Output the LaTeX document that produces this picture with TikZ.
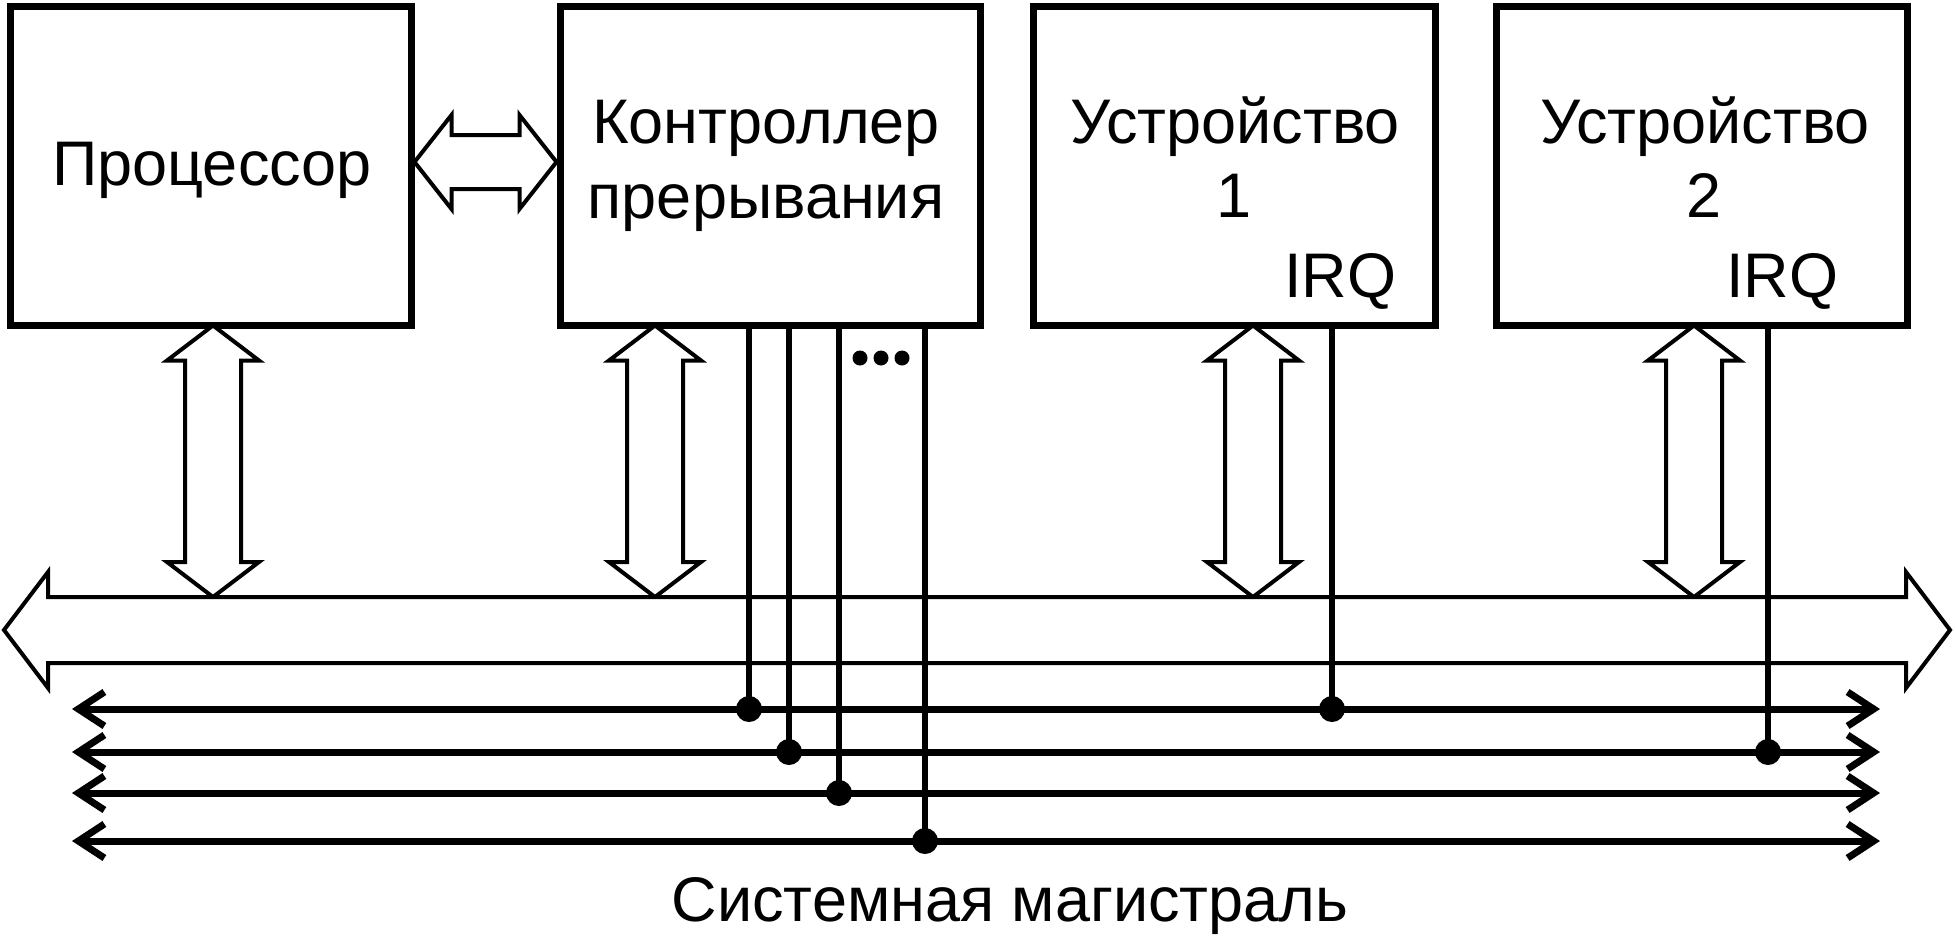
\documentclass[tikz,border=0pt]{standalone}
\usepackage{fontspec}
\setmainfont{Liberation Sans}
\usetikzlibrary{arrows.meta,calc}
\tikzset{
  boxst/.style={draw=black, line width=7bp, minimum width=#1, minimum height=318bp, inner sep=0pt, fill=white},
  lbl/.style={anchor=base, inner sep=0pt, font=\fontsize{63bp}{74bp}\selectfont},
  fatarrow/.style={draw=black, fill=white, line width=4bp, line join=miter},
  busline/.style={line width=7bp, {Straight Barb[length=26bp,width=34bp,line width=7bp]}-{Straight Barb[length=26bp,width=34bp,line width=7bp]}},
  irqline/.style={line width=6bp},
  junction/.style={fill=black},
}
\newcommand\vfat[2]{%
  \path[fatarrow] let \p1=(#1), \p2=(#2) in
   (\x1,\y1) -- (\x1+46bp,\y1-35bp) -- (\x1+28bp,\y1-35bp) -- (\x1+28bp,\y2+35bp)
   -- (\x1+46bp,\y2+35bp) -- (\x1,\y2) -- (\x1-46bp,\y2+35bp) -- (\x1-28bp,\y2+35bp)
   -- (\x1-28bp,\y1-35bp) -- (\x1-46bp,\y1-35bp) -- cycle;}
\newcommand\hfat[5]{% left, right, head length, head half, shaft half
  \path[fatarrow] let \p1=(#1), \p2=(#2) in
   (\x1,\y1) -- (\x1+#3,\y1+#4) -- (\x1+#3,\y1+#5) -- (\x2-#3,\y1+#5) -- (\x2-#3,\y1+#4)
   -- (\x2,\y1) -- (\x2-#3,\y1-#4) -- (\x2-#3,\y1-#5) -- (\x1+#3,\y1-#5) -- (\x1+#3,\y1-#4) -- cycle;}
\begin{document}
\begin{tikzpicture}[x=1bp,y=-1bp]
\useasboundingbox (0,0) rectangle (1955,936);
% boxes
\node[boxst=400bp] (proc) at (211,166) {};
\node[boxst=420bp] (ctrl) at (770,166) {};
\node[boxst=402bp] (dev1) at (1234,166) {};
\node[boxst=411bp] (dev2) at (1702,166) {};
% texts
\node[lbl] (tproc) at (212,185) {Процессор};
\node[lbl] (tctrl1) at (766,143) {Контроллер};
\node[lbl] (tctrl2) at (766,218) {прерывания};
\node[lbl] (tdev1a) at (1235,143) {Устройство};
\node[lbl] (tdev1b) at (1234,217) {1};
\node[lbl] (tirq1) at (1340,297) {IRQ};
\node[lbl] (tdev2a) at (1705,143) {Устройство};
\node[lbl] (tdev2b) at (1704,217) {2};
\node[lbl] (tirq2) at (1782,297) {IRQ};
\node[lbl] (tbus) at (1010,921) {Системная магистраль};
% bus coordinates
\coordinate (busL) at (4,630);
\coordinate (busR) at (1950,630);
\coordinate (bustop) at (0,597);
% processor - controller arrow
\coordinate (pcL) at ($(proc.east)+(0,-4)$);
\coordinate (pcR) at ($(ctrl.west)+(0,-4)$);
\hfat{pcL}{pcR}{37bp}{47bp}{27bp}
% vertical fat arrows
\coordinate (a1t) at ($(proc.south)+(2,-3)$);   \coordinate (a1b) at (a1t |- bustop);
\coordinate (a2t) at ($(ctrl.south)+(-115,-3)$); \coordinate (a2b) at (a2t |- bustop);
\coordinate (a3t) at ($(dev1.south)+(19,-3)$);   \coordinate (a3b) at (a3t |- bustop);
\coordinate (a4t) at ($(dev2.south)+(-8,-3)$);   \coordinate (a4b) at (a4t |- bustop);
\vfat{a1t}{a1b}
\vfat{a2t}{a2b}
\vfat{a3t}{a3b}
\vfat{a4t}{a4b}
% system bus fat arrow
\hfat{busL}{busR}{44bp}{58bp}{33bp}
% thin bus lines
\coordinate (l1a) at (72,709);  \coordinate (l1b) at (1880,709);
\coordinate (l2a) at (72,752);  \coordinate (l2b) at (1880,752);
\coordinate (l3a) at (72,793);  \coordinate (l3b) at (1880,793);
\coordinate (l4a) at (72,841);  \coordinate (l4b) at (1880,841);
\draw[busline] (l1a) -- (l1b);
\draw[busline] (l2a) -- (l2b);
\draw[busline] (l3a) -- (l3b);
\draw[busline] (l4a) -- (l4b);
% interrupt lines
\coordinate (j1) at (749,709);
\coordinate (j2) at (789,752);
\coordinate (j3) at (839,793);
\coordinate (j4) at (925,841);
\coordinate (j5) at (1332,709);
\coordinate (j6) at (1768,752);
\draw[irqline] (j1 |- ctrl.south) -- (j1);
\draw[irqline] (j2 |- ctrl.south) -- (j2);
\draw[irqline] (j3 |- ctrl.south) -- (j3);
\draw[irqline] (j4 |- ctrl.south) -- (j4);
\draw[irqline] (j5 |- dev1.south) -- (j5);
\draw[irqline] (j6 |- dev2.south) -- (j6);
\foreach \j in {j1,j2,j3,j4,j5,j6} \fill[junction] (\j) circle (13bp);
% ellipsis dots
\coordinate (d1) at (860,358);
\coordinate (d2) at (881,358);
\coordinate (d3) at (902,358);
\foreach \d in {d1,d2,d3} \fill[junction] (\d) circle (7.5bp);
\end{tikzpicture}
\end{document}
